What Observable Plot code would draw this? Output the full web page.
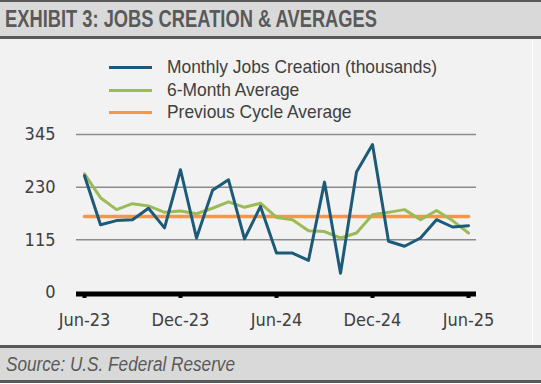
<!DOCTYPE html>
<html>
<head>
<meta charset="utf-8">
<script src="https://cdn.jsdelivr.net/npm/d3@7"></script>
<script src="https://cdn.jsdelivr.net/npm/@observablehq/plot@0.6"></script>
<style>
  html, body { margin: 0; padding: 0; background: #ffffff; }
  #wrap { position: relative; width: 541px; height: 384px; overflow: hidden; font-family: "Liberation Sans", Arial, sans-serif; }
  #title { position: absolute; left: 0; top: 0; width: 541px; height: 34px; background: #d9d9d9; border-top: 2px solid #595959; border-bottom: 3px solid #595959; }
  #title span { position: absolute; left: 5px; top: 4px; font-size: 23px; font-weight: bold; color: #595959; white-space: nowrap; transform-origin: 0 50%; display: inline-block; }
  #panel { position: absolute; left: 0; top: 39px; width: 541px; height: 306px; background: #f2f2f2; }
  #panel .edge { position: absolute; left: 532px; top: 0; width: 1px; height: 306px; background: #ffffff; }
  #legend { position: absolute; left: 0; top: 0; }
  .lg { position: absolute; left: 109px; height: 22px; white-space: nowrap; }
  .lg .sw { position: absolute; left: 0; top: 10px; width: 43px; height: 3px; }
  .lg .tx { position: absolute; left: 58px; top: 0; font-size: 19px; color: #404040; line-height: 22px; transform-origin: 0 50%; display: inline-block; }
  #source { position: absolute; left: 0; top: 345px; width: 541px; height: 32px; background: #d9d9d9; border-top: 3px solid #595959; border-bottom: 3px solid #595959; }
  #source span { position: absolute; left: 6px; top: 5px; font-size: 20px; font-style: italic; color: #595959; white-space: nowrap; transform-origin: 0 50%; display: inline-block; }
</style>
</head>
<body>
<div id="wrap">
  <div id="title"><span>EXHIBIT 3: JOBS CREATION &amp; AVERAGES</span></div>
  <div id="panel"><div id="chart"></div><div class="edge"></div><div id="legend"></div></div>
  <div id="source"><span>Source: U.S. Federal Reserve</span></div>
</div>
<script>
// ---- data ----
const months = ["2023-06","2023-07","2023-08","2023-09","2023-10","2023-11","2023-12",
  "2024-01","2024-02","2024-03","2024-04","2024-05","2024-06","2024-07","2024-08","2024-09",
  "2024-10","2024-11","2024-12","2025-01","2025-02","2025-03","2025-04","2025-05","2025-06"];
const monthlyJobs = [255,148,157,159,184,141,268,119,223,246,117,188,86,86,70,241,42,263,323,112,101,119,159,143,146];
const sixMonthAvg = [259,207,181,194,189,175,178,172,184,198,186,195,164,159,135,133,119,130,170,175,181,159,179,157,130];
const previousCycleAvg = 166;
const yTicks = [0, 115, 230, 345];
const xTickMonths = ["2023-06","2023-12","2024-06","2024-12","2025-06"];
const xTickLabels = ["Jun-23","Dec-23","Jun-24","Dec-24","Jun-25"];
const seriesNames = ["Monthly Jobs Creation (thousands)", "6-Month Average", "Previous Cycle Average"];
const seriesColors = ["#1b5a78", "#9bbb59", "#f79646"];

const rows = months.map((m, i) => ({month: m, jobs: monthlyJobs[i], avg: sixMonthAvg[i], prev: previousCycleAvg}));
const labelOf = new Map(xTickMonths.map((m, i) => [m, xTickLabels[i]]));

const chart = Plot.plot({
  width: 541,
  height: 306,
  marginLeft: 76,
  marginRight: 65,
  marginTop: 95,
  marginBottom: 53,
  style: {background: "transparent", fontFamily: "'DejaVu Sans Condensed', sans-serif", fontSize: "18px", color: "#404040"},
  x: {type: "point", domain: months, padding: 0, label: null},
  y: {domain: [0, 345], label: null},
  marks: [
    Plot.ruleY(yTicks.filter(d => d > 0), {stroke: "#8c8c8c", strokeWidth: 1.5}),
    Plot.line(rows, {x: "month", y: "prev", stroke: seriesColors[2], strokeWidth: 3.5}),
    Plot.line(rows, {x: "month", y: "avg", stroke: seriesColors[1], strokeWidth: 3}),
    Plot.line(rows, {x: "month", y: "jobs", stroke: seriesColors[0], strokeWidth: 3}),
    Plot.ruleY([0], {stroke: "#000000", strokeWidth: 5, dy: 1.5}),
    Plot.axisX({ticks: xTickMonths, tickFormat: d => labelOf.get(d), tickSize: 6, tickPadding: 15, stroke: "#000000", strokeWidth: 4, fill: "#404040", fontSize: 18, label: null}),
    Plot.axisY({ticks: yTicks, tickSize: 0, tickPadding: 21, fill: "#404040", fontSize: 18, label: null})
  ]
});
document.getElementById("chart").appendChild(chart);

// legend (HTML)
const legend = document.getElementById("legend");
const legendTops = [17, 40, 62];
const legendTexts = [];
seriesNames.forEach((name, i) => {
  const row = document.createElement("div");
  row.className = "lg";
  row.style.top = legendTops[i] + "px";
  row.innerHTML = `<div class="sw" style="background:${seriesColors[i]}"></div><div class="tx">${name}</div>`;
  legend.appendChild(row);
  legendTexts.push(row.querySelector(".tx"));
});

// condense HTML texts to the reference's narrow face
function fitWidth(el, target) {
  const w = el.getBoundingClientRect().width;
  const s = target / w;
  el.style.transform = `scaleX(${s})`;
  return s;
}
fitWidth(document.querySelector("#title span"), 372);
fitWidth(document.querySelector("#source span"), 229);
const s = fitWidth(legendTexts[0], 270);
legendTexts.slice(1).forEach(el => { el.style.transform = `scaleX(${s})`; });
</script>
</body>
</html>
